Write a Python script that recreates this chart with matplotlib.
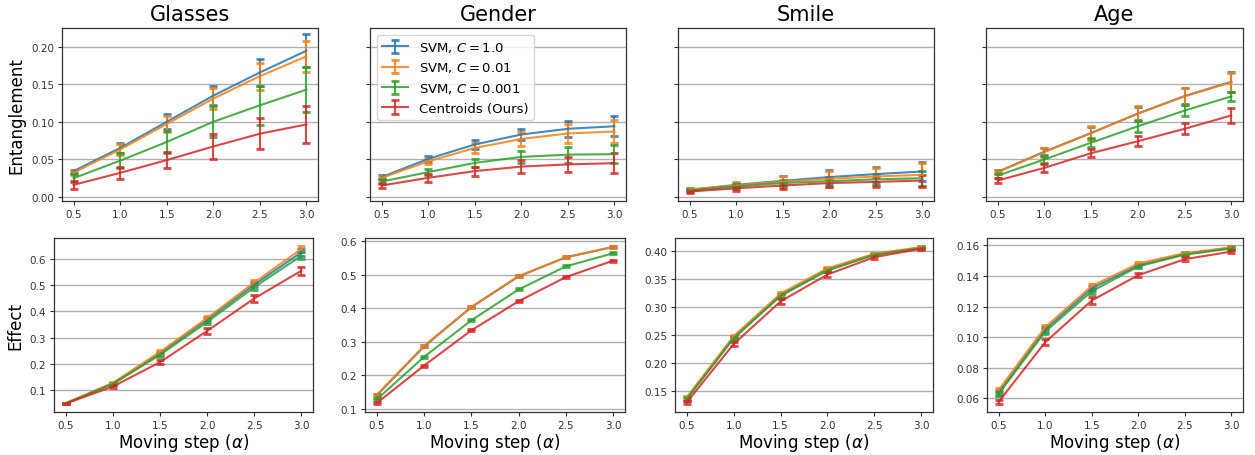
import matplotlib
matplotlib.use("Agg")
import matplotlib.pyplot as plt
import numpy as np

steps = [0.5, 1.0, 1.5, 2.0, 2.5, 3.0]
attributes = ["Glasses", "Gender", "Smile", "Age"]
methods = ["SVM, $C=1.0$", "SVM, $C=0.01$", "SVM, $C=0.001$", "Centroids (Ours)"]
colors = ["#1f77b4", "#ff7f0e", "#2ca02c", "#d62728"]

# ---------------- Entanglement (mean, std) ----------------
ent_glasses_svm1 = [0.034, 0.065, 0.100, 0.135, 0.166, 0.195]
ent_glasses_svm1_err = [0.002, 0.007, 0.010, 0.013, 0.018, 0.022]
ent_glasses_svm01 = [0.032, 0.063, 0.097, 0.131, 0.161, 0.1875]
ent_glasses_svm01_err = [0.003, 0.007, 0.0105, 0.0145, 0.018, 0.021]
ent_glasses_svm001 = [0.0245, 0.048, 0.073, 0.100, 0.122, 0.143]
ent_glasses_svm001_err = [0.005, 0.010, 0.0145, 0.0205, 0.026, 0.0305]
ent_glasses_cent = [0.0156, 0.0317, 0.0487, 0.067, 0.084, 0.0964]
ent_glasses_cent_err = [0.005, 0.008, 0.011, 0.017, 0.0205, 0.0245]

ent_gender_svm1 = [0.026, 0.0504, 0.0696, 0.083, 0.0906, 0.094]
ent_gender_svm1_err = [0.003, 0.004, 0.006, 0.008, 0.011, 0.0135]
ent_gender_svm01 = [0.025, 0.047, 0.065, 0.077, 0.0844, 0.087]
ent_gender_svm01_err = [0.003, 0.004, 0.0065, 0.009, 0.0125, 0.015]
ent_gender_svm001 = [0.020, 0.0326, 0.045, 0.053, 0.056, 0.0567]
ent_gender_svm001_err = [0.003, 0.004, 0.0055, 0.0075, 0.0105, 0.0125]
ent_gender_cent = [0.0147, 0.025, 0.034, 0.040, 0.043, 0.0446]
ent_gender_cent_err = [0.003, 0.005, 0.006, 0.0087, 0.010, 0.0135]

ent_smile_svm1 = [0.009, 0.0156, 0.021, 0.026, 0.030, 0.0335]
ent_smile_svm1_err = [0.002, 0.003, 0.006, 0.009, 0.010, 0.013]
ent_smile_svm01 = [0.0094, 0.0147, 0.020, 0.0237, 0.0268, 0.029]
ent_smile_svm01_err = [0.002, 0.005, 0.008, 0.011, 0.012, 0.0155]
ent_smile_svm001 = [0.008, 0.0134, 0.018, 0.0205, 0.023, 0.0245]
ent_smile_svm001_err = [0.002, 0.003, 0.004, 0.006, 0.007, 0.010]
ent_smile_cent = [0.0067, 0.011, 0.0147, 0.018, 0.0196, 0.0214]
ent_smile_cent_err = [0.002, 0.003, 0.0045, 0.005, 0.0065, 0.008]

ent_age_svm1 = [0.033, 0.060, 0.085, 0.111, 0.1345, 0.1535]
ent_age_svm1_err = [0.003, 0.005, 0.008, 0.009, 0.011, 0.013]
ent_age_svm01 = [0.0326, 0.0594, 0.085, 0.111, 0.134, 0.153]
ent_age_svm01_err = [0.003, 0.006, 0.009, 0.010, 0.0115, 0.0125]
ent_age_svm001 = [0.028, 0.0496, 0.072, 0.094, 0.115, 0.134]
ent_age_svm001_err = [0.003, 0.0045, 0.006, 0.0075, 0.007, 0.0065]
ent_age_cent = [0.0214, 0.0384, 0.058, 0.074, 0.0906, 0.1085]
ent_age_cent_err = [0.0035, 0.005, 0.005, 0.007, 0.0075, 0.0095]

# ---------------- Effect (mean, std) ----------------
eff_glasses_svm1 = [0.049, 0.124, 0.240, 0.368, 0.502, 0.625]
eff_glasses_svm1_err = [0.002, 0.004, 0.006, 0.008, 0.010, 0.012]
eff_glasses_svm01 = [0.050, 0.127, 0.245, 0.374, 0.510, 0.638]
eff_glasses_svm01_err = [0.002, 0.004, 0.006, 0.008, 0.010, 0.012]
eff_glasses_svm001 = [0.049, 0.123, 0.234, 0.359, 0.492, 0.612]
eff_glasses_svm001_err = [0.002, 0.004, 0.007, 0.009, 0.011, 0.013]
eff_glasses_cent = [0.048, 0.113, 0.206, 0.325, 0.449, 0.555]
eff_glasses_cent_err = [0.002, 0.004, 0.007, 0.011, 0.013, 0.015]

eff_gender_svm1 = [0.140, 0.286, 0.403, 0.495, 0.552, 0.583]
eff_gender_svm1_err = [0.003, 0.003, 0.003, 0.003, 0.003, 0.003]
eff_gender_svm01 = [0.142, 0.288, 0.404, 0.496, 0.552, 0.583]
eff_gender_svm01_err = [0.003, 0.003, 0.003, 0.003, 0.003, 0.003]
eff_gender_svm001 = [0.128, 0.255, 0.364, 0.456, 0.525, 0.564]
eff_gender_svm001_err = [0.003, 0.003, 0.003, 0.003, 0.003, 0.003]
eff_gender_cent = [0.117, 0.229, 0.334, 0.421, 0.493, 0.542]
eff_gender_cent_err = [0.003, 0.003, 0.003, 0.003, 0.003, 0.003]

eff_smile_svm1 = [0.137, 0.246, 0.321, 0.367, 0.394, 0.406]
eff_smile_svm1_err = [0.003, 0.003, 0.003, 0.003, 0.002, 0.002]
eff_smile_svm01 = [0.139, 0.248, 0.324, 0.369, 0.395, 0.407]
eff_smile_svm01_err = [0.003, 0.003, 0.003, 0.003, 0.002, 0.002]
eff_smile_svm001 = [0.136, 0.244, 0.320, 0.365, 0.393, 0.405]
eff_smile_svm001_err = [0.003, 0.003, 0.003, 0.003, 0.002, 0.002]
eff_smile_cent = [0.130, 0.234, 0.310, 0.358, 0.389, 0.404]
eff_smile_cent_err = [0.003, 0.004, 0.004, 0.004, 0.003, 0.002]

eff_age_svm1 = [0.064, 0.105, 0.132, 0.147, 0.1545, 0.1585]
eff_age_svm1_err = [0.0015, 0.0015, 0.0015, 0.0012, 0.001, 0.001]
eff_age_svm01 = [0.0655, 0.1066, 0.1334, 0.1482, 0.155, 0.1587]
eff_age_svm01_err = [0.0015, 0.0015, 0.0015, 0.0012, 0.001, 0.001]
eff_age_svm001 = [0.0629, 0.1037, 0.130, 0.1463, 0.154, 0.158]
eff_age_svm001_err = [0.0015, 0.0015, 0.0015, 0.0012, 0.001, 0.001]
eff_age_cent = [0.0578, 0.0967, 0.124, 0.1406, 0.151, 0.156]
eff_age_cent_err = [0.0015, 0.002, 0.002, 0.0015, 0.0012, 0.0012]

entanglement = {
    "Glasses": [(ent_glasses_svm1, ent_glasses_svm1_err), (ent_glasses_svm01, ent_glasses_svm01_err),
                (ent_glasses_svm001, ent_glasses_svm001_err), (ent_glasses_cent, ent_glasses_cent_err)],
    "Gender": [(ent_gender_svm1, ent_gender_svm1_err), (ent_gender_svm01, ent_gender_svm01_err),
               (ent_gender_svm001, ent_gender_svm001_err), (ent_gender_cent, ent_gender_cent_err)],
    "Smile": [(ent_smile_svm1, ent_smile_svm1_err), (ent_smile_svm01, ent_smile_svm01_err),
              (ent_smile_svm001, ent_smile_svm001_err), (ent_smile_cent, ent_smile_cent_err)],
    "Age": [(ent_age_svm1, ent_age_svm1_err), (ent_age_svm01, ent_age_svm01_err),
            (ent_age_svm001, ent_age_svm001_err), (ent_age_cent, ent_age_cent_err)],
}
effect = {
    "Glasses": [(eff_glasses_svm1, eff_glasses_svm1_err), (eff_glasses_svm01, eff_glasses_svm01_err),
                (eff_glasses_svm001, eff_glasses_svm001_err), (eff_glasses_cent, eff_glasses_cent_err)],
    "Gender": [(eff_gender_svm1, eff_gender_svm1_err), (eff_gender_svm01, eff_gender_svm01_err),
               (eff_gender_svm001, eff_gender_svm001_err), (eff_gender_cent, eff_gender_cent_err)],
    "Smile": [(eff_smile_svm1, eff_smile_svm1_err), (eff_smile_svm01, eff_smile_svm01_err),
              (eff_smile_svm001, eff_smile_svm001_err), (eff_smile_cent, eff_smile_cent_err)],
    "Age": [(eff_age_svm1, eff_age_svm1_err), (eff_age_svm01, eff_age_svm01_err),
            (eff_age_svm001, eff_age_svm001_err), (eff_age_cent, eff_age_cent_err)],
}

W, H = 1255, 456
fig = plt.figure(figsize=(W / 100, H / 100), dpi=100)

top_x = [(62, 318), (370, 626), (678, 934), (986, 1243)]
bot_x = [(54, 313), (365, 625), (675, 933), (987, 1243)]
top_y = (29, 202)
bot_y = (239, 413)


def make_ax(xr, yr):
    return fig.add_axes([xr[0] / W, 1 - yr[1] / H, (xr[1] - xr[0]) / W, (yr[1] - yr[0]) / H])


def style(ax):
    ax.grid(axis="y", color="#b0b0b0", linewidth=1.0)
    ax.set_axisbelow(True)
    ax.tick_params(labelsize=7.5, colors="#333333", length=3, pad=2.5)
    for s in ax.spines.values():
        s.set_color("#333333")
        s.set_linewidth(0.9)
    ax.set_xticks(steps)


def draw(ax, series):
    for (mean, err), c, lab in zip(series, colors, methods):
        ax.errorbar(steps, mean, yerr=err, color=c, label=lab, linewidth=1.5,
                    elinewidth=1.5, capsize=3, capthick=2, alpha=0.85)


for i, attr in enumerate(attributes):
    ax = make_ax(top_x[i], top_y)
    style(ax)
    draw(ax, entanglement[attr])
    ax.set_ylim(-0.006, 0.2255)
    ax.set_yticks([0.0, 0.05, 0.10, 0.15, 0.20])
    ax.set_title(attr, fontsize=15, pad=6)
    if i == 0:
        ax.set_ylabel("Entanglement", fontsize=12)
        ax.set_yticklabels(["0.00", "0.05", "0.10", "0.15", "0.20"])
    else:
        ax.set_yticklabels([])
    if i == 1:
        ax.legend(loc="upper left", fontsize=9.5, framealpha=0.8, handlelength=2.0)

for i, attr in enumerate(attributes):
    ax = make_ax(bot_x[i], bot_y)
    style(ax)
    draw(ax, effect[attr])
    ax.set_xlabel(r"Moving step ($\alpha$)", fontsize=12, labelpad=1)
    if i == 0:
        ax.set_ylabel("Effect", fontsize=12)

fig.savefig("out.png", dpi=100)
